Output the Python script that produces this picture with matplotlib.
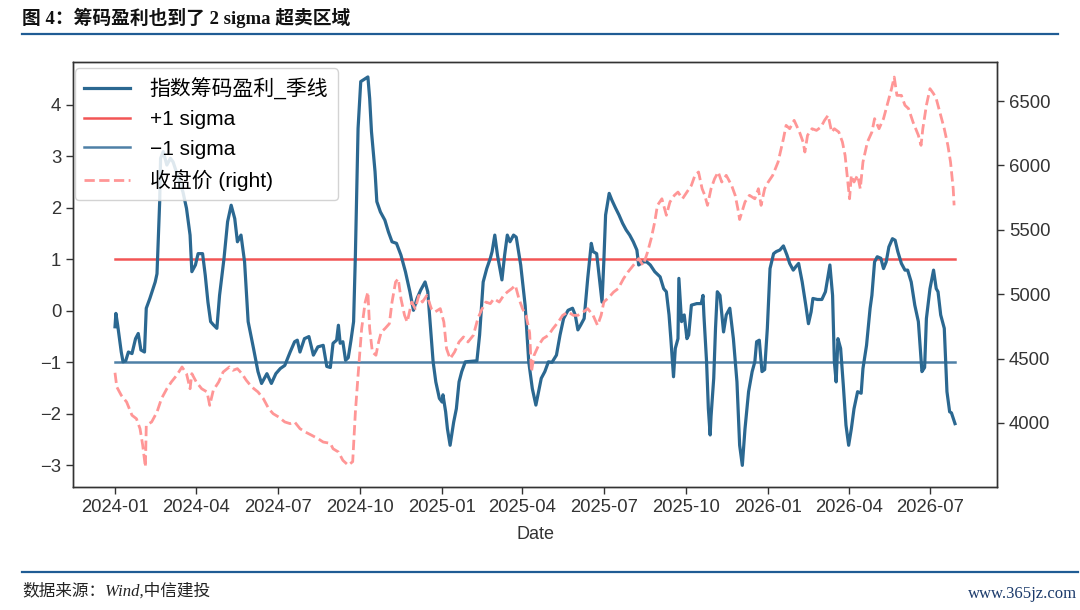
import matplotlib
matplotlib.use("Agg")
import matplotlib.pyplot as plt
import matplotlib.dates as mdates
from matplotlib.lines import Line2D
import pandas as pd

plt.rcParams['font.family'] = ['Liberation Sans', 'Noto Sans CJK SC']
plt.rcParams['axes.unicode_minus'] = True

# ---------------- data ----------------
start_date = "2024-01-01"

# 指数筹码盈利_季线 : (day offset from start_date, value)
profit_points = [
    (0,-0.31),(1,-0.05),(3,-0.28),(7,-0.80),(9,-0.99),(12,-0.97),(15,-0.80),(19,-0.83),(23,-0.54),(26,-0.44),
    (29,-0.76),(33,-0.80),(35,0.05),(39,0.24),(45,0.56),(47,0.72),(50,2.12),(51,2.96),(54,3.09),(58,2.83),
    (62,2.96),(65,2.89),(71,2.57),(76,2.31),(80,1.99),(84,1.47),(86,0.76),(90,0.89),(93,1.11),(98,1.11),
    (101,0.69),(104,0.17),(107,-0.21),(110,-0.27),(114,-0.34),(117,0.30),(122,1.02),(126,1.73),(130,2.05),(134,1.79),
    (137,1.34),(141,1.47),(145,0.95),(149,-0.21),(155,-0.73),(160,-1.18),(164,-1.41),(170,-1.22),(175,-1.41),(180,-1.22),
    (185,-1.12),(190,-1.06),(196,-0.80),(201,-0.60),(204,-0.57),(207,-0.80),(212,-0.54),(217,-0.50),(222,-0.86),(227,-0.70),
    (233,-0.67),(237,-1.08),(241,-1.10),(244,-0.63),(248,-0.57),(250,-0.28),(252,-0.63),(255,-0.60),(258,-0.96),(261,-0.91),
    (264,-0.58),(267,-0.21),(269,1.08),(272,3.54),(275,4.45),(283,4.54),(285,4.12),(287,3.48),(291,2.70),(293,2.12),
    (297,1.92),(302,1.76),(306,1.53),(310,1.34),(315,1.31),(320,1.08),(325,0.76),(330,0.37),(334,0.01),(338,0.24),
    (342,0.40),(347,0.56),(350,0.37),(352,-0.08),(356,-0.99),(359,-1.38),(363,-1.70),(366,-1.77),(367,-1.63),(370,-1.96),
    (372,-2.29),(375,-2.61),(379,-2.16),(382,-1.90),(385,-1.38),(388,-1.18),(392,-0.99),(405,-0.97),(408,-0.47),(412,0.56),
    (416,0.82),(420,1.02),(422,1.15),(425,1.47),(428,1.08),(433,0.60),(436,1.08),(439,1.47),(442,1.34),(446,1.47),
    (449,1.43),(454,0.89),(459,0.10),(463,-0.99),(467,-1.51),(471,-1.83),(474,-1.57),(477,-1.31),(481,-1.18),(485,-0.99),
    (489,-1.00),(494,-0.86),(498,-0.47),(502,-0.15),(507,0.01),(512,0.05),(515,-0.08),(518,-0.37),(521,-0.28),(525,-0.15),
    (529,0.63),(533,1.31),(535,1.15),(539,1.11),(542,0.63),(545,0.17),(547,0.95),(549,1.86),(553,2.28),(556,2.15),
    (560,2.00),(564,1.86),(568,1.70),(572,1.57),(576,1.47),(580,1.34),(584,1.18),(586,0.89),(591,0.95),(595,0.95),
    (599,0.89),(604,0.76),(610,0.66),(614,0.43),(617,0.37),(620,-0.08),(622,-0.54),(625,-1.28),(627,-0.73),(630,-0.54),
    (631,0.63),(634,-0.21),(637,-0.08),(640,-0.54),(642,-0.47),(645,0.11),(651,0.14),(656,0.14),(658,0.30),(659,-0.08),
    (662,-0.99),(664,-1.90),(666,-2.41),(667,-2.05),(670,-1.31),(672,-0.34),(674,0.37),(677,0.30),(681,-0.41),(684,-0.08),
    (688,0.05),(692,-0.54),(696,-1.38),(699,-2.61),(702,-3.00),(705,-2.29),(709,-1.57),(713,-1.18),(716,-0.99),(718,-0.60),
    (721,-0.57),(724,-1.18),(727,-1.14),(730,-0.34),(733,0.82),(737,1.11),(740,1.15),(744,1.18),(748,1.26),(752,1.08),
    (755,0.92),(759,0.79),(762,0.86),(765,0.92),(769,0.56),(773,0.11),(776,-0.25),(779,-0.02),(781,0.24),(786,0.22),
    (791,0.22),(795,0.37),(800,0.89),(803,0.30),(805,-0.99),(807,-1.38),(809,-0.54),(812,-0.73),(815,-1.44),(818,-2.22),
    (821,-2.61),(824,-2.29),(827,-1.90),(831,-1.57),(835,-1.60),(837,-1.12),(841,-0.67),(845,0.05),(847,0.30),(850,0.95),
    (853,1.05),(857,1.02),(860,0.82),(863,0.95),(866,1.24),(870,1.40),(873,1.37),(876,1.15),(880,0.92),(884,0.79),
    (887,0.79),(891,0.56),(895,0.11),(899,-0.21),(903,-1.18),(906,-1.10),(908,-0.15),(912,0.43),(916,0.79),(919,0.43),
    (921,0.37),(924,-0.08),(928,-0.34),(931,-1.57),(934,-1.96),(936,-1.98),(940,-2.19),
]

# 收盘价 (right axis) : (day offset from start_date, close)
close_points = [
    (0,4390),(2,4280),(7,4215),(13,4163),(19,4060),(24,4033),(28,3956),(31,3827),(34,3658),(35,3982),
    (41,4008),(47,4085),(52,4189),(58,4266),(63,4318),(69,4370),(75,4435),(80,4383),(84,4266),(86,4383),
    (91,4318),(97,4266),(103,4241),(106,4137),(110,4254),(116,4318),(121,4396),(128,4435),(132,4409),(137,4422),
    (142,4383),(147,4331),(153,4280),(160,4241),(166,4189),(172,4111),(177,4072),(183,4047),(190,4008),(196,3995),
    (201,4008),(207,3956),(213,3930),(220,3905),(227,3879),(233,3852),(241,3842),(244,3800),(250,3775),(255,3710),
    (261,3672),(266,3700),(269,4085),(272,4370),(276,4732),(280,4939),(283,5017),(285,4732),(288,4551),(292,4526),
    (295,4629),(298,4707),(302,4732),(307,4771),(310,4939),(314,5095),(317,5120),(320,4965),(324,4836),(327,4784),
    (332,4939),(336,4888),(340,4991),(344,4939),(349,4991),(354,4888),(358,4862),(364,4888),(368,4784),(371,4577),
    (375,4499),(380,4551),(385,4629),(390,4668),(395,4629),(401,4681),(406,4810),(410,4875),(415,4939),(420,4927),
    (424,4965),(430,4939),(435,4991),(439,5017),(444,5043),(448,5069),(452,4965),(456,4888),(460,4836),(464,4700),
    (466,4396),(469,4526),(474,4603),(479,4655),(485,4681),(490,4732),(496,4784),(501,4836),(507,4862),(513,4836),
    (518,4836),(524,4862),(529,4888),(535,4836),(540,4758),(544,4836),(547,4939),(553,4978),(558,5017),(563,5043),
    (569,5120),(574,5172),(580,5224),(586,5276),(591,5224),(596,5328),(600,5431),(604,5561),(607,5690),(612,5741),
    (617,5613),(621,5716),(626,5768),(630,5793),(635,5741),(640,5793),(645,5845),(649,5923),(653,5949),(657,5819),
    (660,5768),(663,5690),(667,5819),(671,5897),(675,5949),(679,5871),(684,5923),(690,5845),(694,5768),(697,5664),
    (699,5580),(705,5716),(710,5768),(716,5741),(720,5819),(723,5690),(727,5819),(731,5871),(736,5923),(742,6026),
    (748,6207),(751,6311),(755,6285),(760,6350),(766,6259),(770,6182),(772,6104),(775,6234),(780,6285),(785,6272),
    (790,6298),(794,6350),(798,6389),(802,6259),(805,6285),(810,6259),(814,6182),(817,6078),(820,5871),(822,5741),
    (824,5923),(827,5871),(831,5923),(834,5819),(837,6026),(842,6182),(847,6259),(850,6363),(855,6285),(860,6363),
    (865,6492),(869,6596),(872,6686),(875,6544),(880,6544),(884,6467),(888,6441),(893,6337),(899,6234),(902,6156),
    (904,6285),(908,6467),(912,6596),(916,6557),(919,6518),(923,6415),(928,6285),(932,6156),(935,6026),(938,5819),
    (939,5690),
]

plus_sigma = 1.0
minus_sigma = -1.0

left_ticks = [-3, -2, -1, 0, 1, 2, 3, 4]
right_ticks = [4000, 4500, 5000, 5500, 6000, 6500]

title_text = "图 4：筹码盈利也到了 2 sigma 超卖区域"
source_text = "数据来源：Wind,中信建投"
watermark_text = "www.365jz.com"
labels = ["指数筹码盈利_季线", "+1 sigma", "\u22121 sigma", "收盘价 (right)"]

# ---------------- build series ----------------
t0 = pd.Timestamp(start_date)
p_dates = [t0 + pd.Timedelta(days=d) for d, _ in profit_points]
p_vals = [v for _, v in profit_points]
c_dates = [t0 + pd.Timedelta(days=d) for d, _ in close_points]
c_vals = [v for _, v in close_points]
span = [p_dates[0], p_dates[-1]]

# ---------------- figure ----------------
W, H = 1080, 610
fig = plt.figure(figsize=(W / 100, H / 100), dpi=100)
ax = fig.add_axes([73 / W, 1 - 487 / H, (997 - 73) / W, (487 - 62) / H])
ax2 = ax.twinx()

blue = '#2b6891'
h1, = ax.plot(p_dates, p_vals, color=blue, lw=2.3, zorder=3)
h2, = ax.plot(span, [plus_sigma, plus_sigma], color='#f25555', lw=1.8, zorder=2)
h3, = ax.plot(span, [minus_sigma, minus_sigma], color='#4e80a6', lw=1.8, zorder=2)
h4, = ax2.plot(c_dates, c_vals, color='#ff9696', lw=2.0, ls='--', zorder=3)

ax.set_ylim(-3.42, 4.83)
ax2.set_ylim(3503, 6803)
ax.set_yticks(left_ticks)
ax2.set_yticks(right_ticks)

ax.xaxis.set_major_locator(mdates.MonthLocator(bymonth=[1, 4, 7, 10]))
ax.xaxis.set_major_formatter(mdates.DateFormatter('%Y-%m'))

for a in (ax, ax2):
    for s in a.spines.values():
        s.set_color('#333333')
        s.set_linewidth(1.0)
    a.tick_params(labelsize=13.3, colors='#333333', length=5, width=1)
ax.set_xlabel('Date', fontsize=13, color='#333333', labelpad=7)

leg = ax2.legend([h1, h2, h3, h4], labels, loc='upper left',
                 bbox_to_anchor=(0.002, 0.985), borderaxespad=0,
                 fontsize=15, labelspacing=0.5, handlelength=2.2,
                 handletextpad=0.95, borderpad=0.45, framealpha=0.85,
                 edgecolor='#cccccc')
leg.set_zorder(10)

# ---------------- page decorations ----------------
fig.text(22 / W, 1 - 18 / H, title_text, fontsize=13.5, fontweight='bold',
         family=['Liberation Serif', 'Noto Sans CJK SC'], va='center', ha='left', color='#111111')
fig.add_artist(Line2D([22 / W, 1058 / W], [1 - 34 / H, 1 - 34 / H], color='#1f5c94', lw=1.6))
fig.add_artist(Line2D([22 / W, 1078 / W], [1 - 572 / H, 1 - 572 / H], color='#1f5c94', lw=1.6))
fig.text(22 / W, 1 - 591 / H, source_text, fontsize=12, style='italic',
         family=['Liberation Serif', 'Noto Sans CJK SC'], va='center', ha='left', color='#222222')
fig.text(1077 / W, 1 - 594 / H, watermark_text, fontsize=12,
         family=['Liberation Serif'], va='center', ha='right', color='#1b3a6b')

fig.savefig('out.png', dpi=100)
